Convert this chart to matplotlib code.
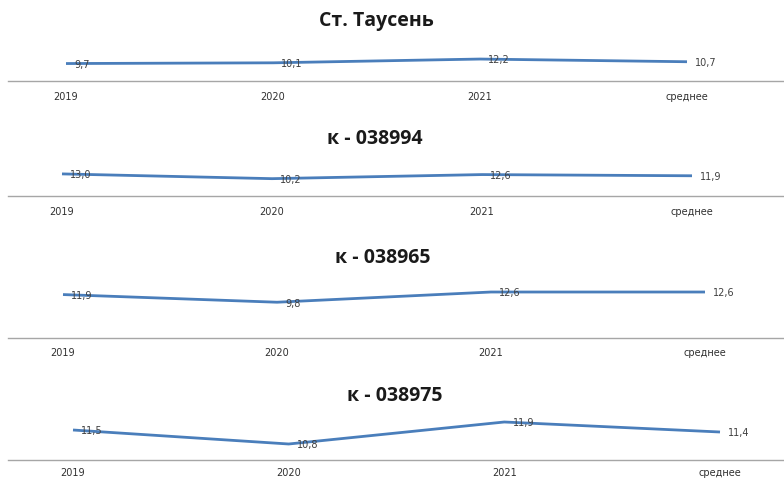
import matplotlib
matplotlib.use('Agg')
import matplotlib.pyplot as plt

years = ['2019', '2020', '2021', 'среднее']
titles = ['Ст. Таусень', 'к - 038994', 'к - 038965', 'к - 038975']
taucen = [9.7, 10.1, 12.2, 10.7]
k038994 = [13.0, 10.2, 12.6, 11.9]
k038965 = [11.9, 9.8, 12.6, 12.6]
k038975 = [11.5, 10.8, 11.9, 11.4]
series = [taucen, k038994, k038965, k038975]

W, H = 784, 479
# per panel, in pixels: first x, last x, baseline y, y-axis min, px per unit,
# title x, title y, tick label pad (pt)
panels = [
    (66, 687, 81, 0, 1.8, 376, 21, 8),
    (62, 692, 196, 0, 1.7, 375, 139, 8),
    (63, 705, 338, 0, 3.65, 383, 258, 7.5),
    (73, 720, 460, 10, 20, 395, 396, 6),
]

fig = plt.figure(figsize=(W / 100, H / 100), dpi=100)
fig.patch.set_facecolor('white')

left, span, axh = 8, 776, 70
for vals, title, (p0, p3, yb, ymin, ppu, tx, ty, pad) in zip(series, titles, panels):
    ax = fig.add_axes([left / W, (H - yb) / H, span / W, axh / H])
    s = (p3 - p0) / 3
    xmin = -(p0 - left) / s
    ax.set_xlim(xmin, xmin + span / s)
    ax.set_ylim(ymin, ymin + axh / ppu)
    x = range(len(vals))
    ax.plot(x, vals, color='#4a7ebb', lw=2, clip_on=False, solid_capstyle='butt')
    for i, v in enumerate(vals):
        ax.annotate(f'{v:.1f}'.replace('.', ','), (i, v), xytext=(6, -1),
                    textcoords='offset points', ha='left', va='center',
                    fontsize=7, color='#404040', family='DejaVu Sans',
                    annotation_clip=False)
    for side in ('left', 'right', 'top'):
        ax.spines[side].set_visible(False)
    ax.spines['bottom'].set_color('#a6a6a6')
    ax.spines['bottom'].set_linewidth(1)
    ax.set_yticks([])
    ax.set_xticks(list(x))
    ax.set_xticklabels(years)
    ax.tick_params(axis='x', length=0, pad=pad, labelsize=7, labelcolor='#303030')
    ax.patch.set_alpha(0)
    fig.text(tx / W, 1 - ty / H, title, ha='center', va='center',
             fontsize=14, fontweight='bold', family='Open Sans', color='#1a1a1a')

fig.savefig('out.png', dpi=100)
